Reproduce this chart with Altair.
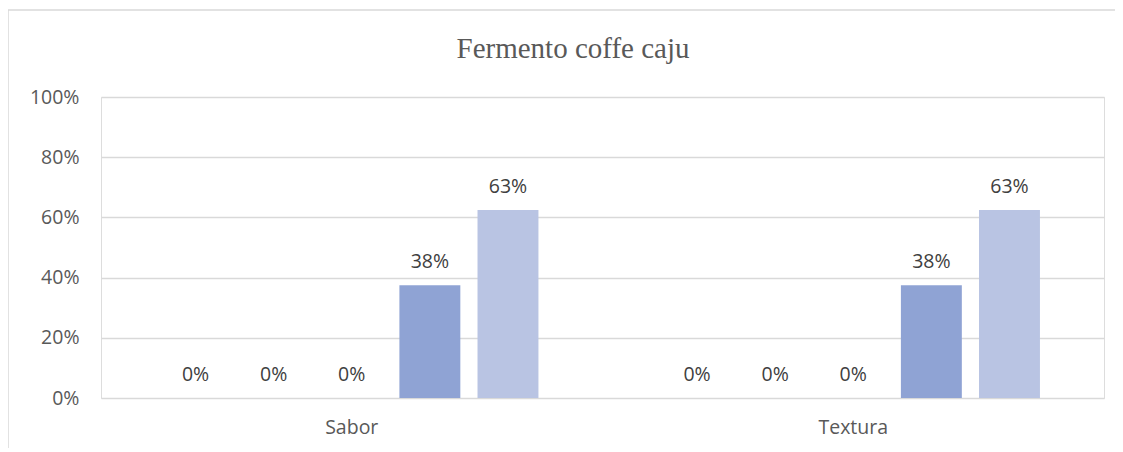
import altair as alt
import pandas as pd

categories = ["Sabor", "Textura"]
series = ["S1", "S2", "S3", "S4", "S5"]
sabor_values = [0.0, 0.0, 0.0, 0.375, 0.625]
textura_values = [0.0, 0.0, 0.0, 0.375, 0.625]
series_colors = ["#2E4A8A", "#4866B0", "#6F88C8", "#8FA3D4", "#B9C4E3"]
title_text = "Fermento coffe caju"

rows = []
for cat, vals in zip(categories, [sabor_values, textura_values]):
    for s, v in zip(series, vals):
        rows.append({"cat": cat, "series": s, "value": v})
df = pd.DataFrame(rows)

W, H = 1003, 301
FONT = "Open Sans"

x_enc = alt.X("cat:N", sort=categories, title=None,
              scale=alt.Scale(paddingInner=0, paddingOuter=0),
              axis=alt.Axis(labelAngle=0, labelFontSize=19.5, labelColor="#595959",
                            labelFont=FONT, labelPadding=20, ticks=False,
                            domain=False, grid=False))
xoff = alt.XOffset("series:N", sort=series,
                   scale=alt.Scale(paddingInner=0.22, paddingOuter=0.82))
y_enc = alt.Y("value:Q", title=None,
              scale=alt.Scale(domain=[0, 1], nice=False),
              axis=alt.Axis(format=".0%", values=[0, 0.2, 0.4, 0.6, 0.8, 1.0],
                            labelFontSize=19.5, labelColor="#595959",
                            labelFont=FONT, labelPadding=22, ticks=False,
                            domain=False, gridColor="#D9D9D9", gridWidth=1.3))

deco = pd.DataFrame({"t": [title_text]})

border = alt.Chart(deco).mark_rect(
    fill=None, stroke="#D9D9D9", strokeWidth=1.5, clip=False
).encode(x=alt.value(-93), x2=alt.value(1016), y=alt.value(-87), y2=alt.value(380))

title = alt.Chart(deco).mark_text(
    font="Liberation Serif", fontSize=29, color="#595959", baseline="middle", align="center"
).encode(x=alt.value(472), y=alt.value(-48), text="t:N")

bars = alt.Chart(df).mark_bar().encode(
    x=x_enc, xOffset=xoff, y=y_enc,
    color=alt.Color("series:N", sort=series,
                    scale=alt.Scale(domain=series, range=series_colors), legend=None),
)

labels = alt.Chart(df).mark_text(
    baseline="bottom", dy=-13, fontSize=19.5, color="#404040", font=FONT
).encode(
    x=alt.X("cat:N", sort=categories), xOffset=alt.XOffset("series:N", sort=series),
    y="value:Q", text=alt.Text("value:Q", format=".0%"),
)

chart = alt.layer(border, title, bars, labels).properties(
    width=W, height=H,
    autosize=alt.AutoSizeParams(type="none"),
    padding={"left": 93, "top": 89, "right": 11, "bottom": 50},
).configure_view(stroke=None).configure(background="white")

chart.save("out.html", embed_options={"renderer": "svg", "actions": False})
